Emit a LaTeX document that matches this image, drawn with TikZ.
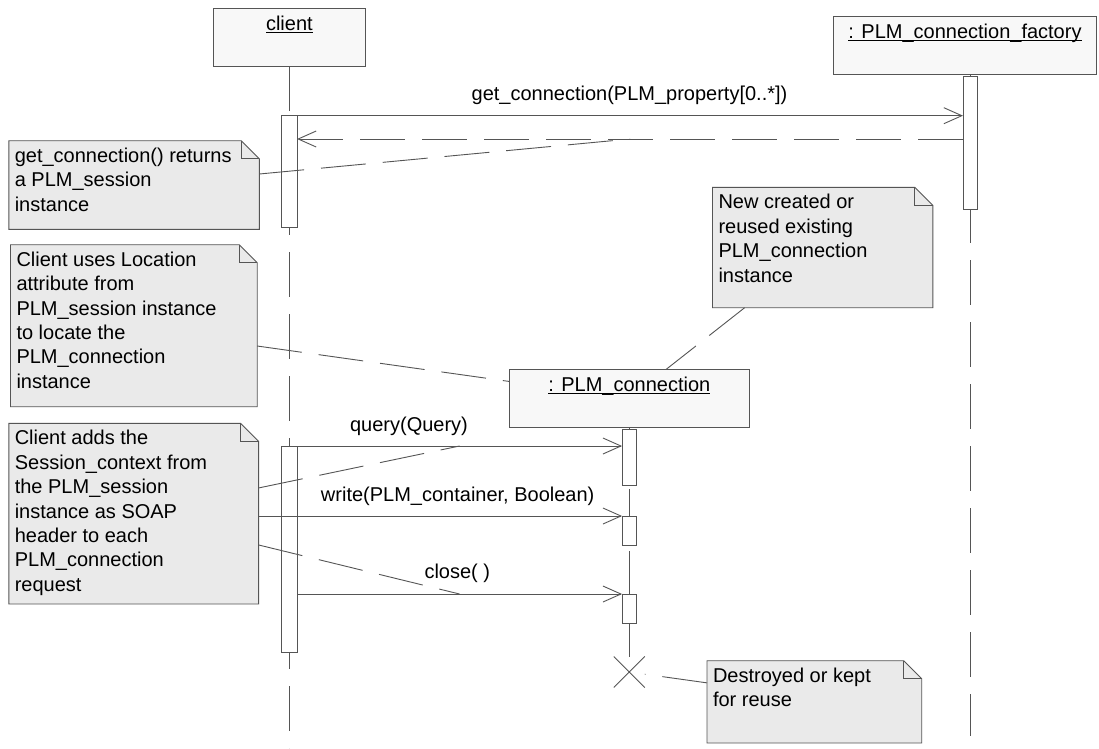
\documentclass[tikz,border=0pt]{standalone}
\usepackage{fontspec}
\setmainfont{Liberation Sans}
\usetikzlibrary{arrows.meta,shapes.misc,calc}
\pgfdeclarelayer{background}
\pgfsetlayers{background,main}
\definecolor{ln}{HTML}{555555}
\definecolor{notefill}{HTML}{EAEAEA}
\definecolor{objfill}{HTML}{F8F8F8}
\newcommand\ulbox[1]{\setbox0\hbox{#1}\makebox[0pt][l]{\rule[-2.3pt]{\wd0}{1pt}}\box0}
\newcommand\notetxt[3]{\parbox[c][#1][t]{#2}{\raggedright\rule{0pt}{21.5pt}#3}}
\newcommand\objtxt[3]{\parbox[c][#1][t]{#2}{\centering\rule{0pt}{22.5pt}\ulbox{#3}}}
\begin{document}
\begin{tikzpicture}[x=1pt,y=-1pt, font=\fontsize{20}{24.4}\selectfont,
 obj/.style={draw=ln, fill=objfill, line width=0.9pt, inner sep=0pt, outer sep=0pt, anchor=north west},
 act/.style={draw=ln, fill=white, line width=0.9pt, inner sep=0pt, outer sep=0pt, minimum width=14.5pt, anchor=north},
 note/.style={inner xsep=6pt, inner ysep=0pt, outer sep=0pt, anchor=north west},
 notebox/.style={draw=ln, fill=notefill, line width=0.9pt, line join=miter},
 life/.style={draw=ln, line width=0.9pt, dash pattern=on 45pt off 17pt},
 msg/.style={draw=ln, line width=0.9pt, -{Straight Barb[length=18pt,width=16pt]}},
 ret/.style={msg, dash pattern=on 45pt off 17pt},
 anchorline/.style={draw=ln, line width=0.9pt, dash pattern=on 45pt off 17pt},
 lbl/.style={anchor=base, inner sep=0pt}]

\useasboundingbox (0,0) rectangle (1099,748);

% objects
\node[obj] (client) at (213,8.3) {\objtxt{57.7pt}{152.7pt}{client}};
\node[obj] (factory) at (833.5,16) {\objtxt{58pt}{263pt}{: PLM\_connection\_factory}};
\node[obj] (plmc) at (509.6,369.3) {\objtxt{58pt}{239.4pt}{: PLM\_connection}};

\coordinate (bot) at (0,748);
\path (plmc.south) ++(0,244.7) node[cross out, draw=ln, line width=0.9pt, minimum size=31pt, inner sep=0pt, outer sep=0pt] (destroy) {};

% lifelines
\draw[life] (client.south) -- (client.south |- bot);
\draw[life] ([xshift=5.2pt]factory.south) -- ++(0,662);
\draw[life] (plmc.south) -- (destroy.north);

% activations
\node[act, minimum width=15.5pt, minimum height=111.6pt] (a1) at (289.35,115.7) {};
\node[act, minimum width=15.5pt, minimum height=206.7pt] (a2) at (289.35,446) {};
\node[act, minimum height=133.3pt] (fa) at (970.2,76) {};
\node[act, minimum height=56pt] (p1) at (629.3,429) {};
\node[act, minimum height=29pt] (p2) at (629.3,516) {};
\node[act, minimum height=29.3pt] (p3) at (629.3,594) {};

% messages
\coordinate (ry) at (0,139);
\draw[msg] (a1.north east) -- (a1.north east -| fa.west);
\draw[ret] (fa.west |- ry) -- (a1.east |- ry);
\coordinate (qy) at (0,446);
\draw[msg] (a2.north east) -- (a2.north east -| p1.west);
\draw[msg] (a2.east |- p2.north) -- (p2.north west);
\draw[msg] (a2.east |- p3.north) -- (p3.north west);

\node[lbl] (lget) at (629.5,100.7) {get\_connection(PLM\_property[0..*])};
\node[lbl] (lq) at (409,431.7) {query(Query)};
\node[lbl] (lw) at (457.7,501.7) {write(PLM\_container, Boolean)};
\node[lbl] (lc) at (457.3,578.3) {close( )};

% notes
\node[note] (n1) at (8.8,140.7) {\notetxt{88.6pt}{238.5pt}{get\_connection() returns\\a PLM\_session\\instance}};
\node[note] (n2) at (10.5,244.7) {\notetxt{162pt}{234.7pt}{Client uses Location\\attribute from\\PLM\_session instance\\to locate the\\PLM\_connection\\instance}};
\node[note] (n3) at (8.8,423.3) {\notetxt{180.7pt}{237.8pt}{Client adds the\\Session\_context from\\the PLM\_session\\instance as SOAP\\header to each\\PLM\_connection\\request}};
\node[note] (n4) at (712.5,187.3) {\notetxt{120.4pt}{208.3pt}{New created or\\reused existing\\PLM\_connection\\instance}};
\node[note] (n5) at (707,660.7) {\notetxt{82.3pt}{202.7pt}{Destroyed or kept\\for reuse}};

\begin{pgfonlayer}{background}
\fill[white] (0,0) rectangle (1099,748);
\foreach \n in {n1,n2,n3,n4,n5}{
 \draw[notebox] (\n.north west) -- ([xshift=-18pt]\n.north east) -- ([yshift=-18pt]\n.north east) -- (\n.south east) -- (\n.south west) -- cycle;
 \draw[notebox,fill=none] ([xshift=-18pt]\n.north east) -- ([xshift=-18pt,yshift=-18pt]\n.north east) -- ([yshift=-18pt]\n.north east);
}
\end{pgfonlayer}

% note anchors
\coordinate (rmid) at ($(a1.east |- ry)!0.5!(fa.west |- ry)$);
\coordinate (qmid) at ($(a2.north east)!0.5!(a2.north east -| p1.west)$);
\coordinate (wmid) at ($(a2.east |- p2.north)!0.5!(p2.north west)$);
\coordinate (cmid) at ($(a2.east |- p3.north)!0.5!(p3.north west)$);
\draw[anchorline] ([yshift=11pt]n1.east) -- (rmid);
\draw[anchorline] ([yshift=-20.3pt]n2.east) -- (plmc);
\draw[anchorline] ([yshift=25.7pt]n3.east) -- (qmid);
\draw[anchorline] ([yshift=-2.35pt]n3.east) -- (wmid);
\draw[anchorline] ([yshift=-31.3pt]n3.east) -- (cmid);
\draw[anchorline] ([xshift=-78pt]n4.south) -- (plmc);
\draw[anchorline] ([yshift=19pt]n5.west) -- (destroy);
\end{tikzpicture}
\end{document}
